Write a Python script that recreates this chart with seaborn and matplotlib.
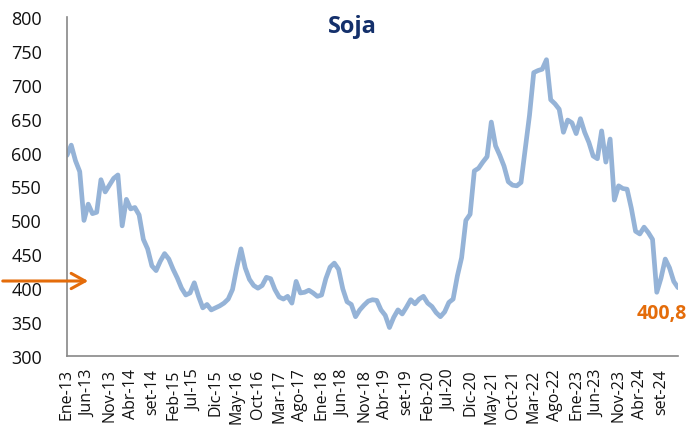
import numpy as np
import pandas as pd
import matplotlib
matplotlib.use("Agg")
import matplotlib.pyplot as plt
import seaborn as sns

# ---- data (monthly, Ene-13 .. Ene-25) ----
month_names = ["Ene", "Feb", "Mar", "Abr", "May", "Jun", "Jul", "Ago", "set", "Oct", "Nov", "Dic"]
start_year = 13
soja = [596, 611, 588, 572, 500, 524, 510, 512, 560, 542, 552, 562,
        567, 492, 531, 517, 519, 508, 472, 458, 433, 426, 440, 451,
        443, 428, 415, 400, 390, 393, 408, 388, 371, 376, 368, 371,
        374, 378, 384, 398, 430, 458, 430, 413, 404, 400, 404, 416,
        414, 398, 387, 384, 388, 378, 410, 393, 394, 397, 393, 388,
        390, 414, 431, 437, 428, 399, 380, 376, 358, 368, 375, 381,
        383, 382, 368, 360, 342, 357, 368, 362, 372, 383, 377, 384,
        388, 378, 373, 364, 358, 365, 379, 384, 418, 445, 500, 509,
        573, 577, 586, 594, 645, 610, 596, 580, 557, 552, 551, 556,
        605, 655, 718, 721, 723, 737, 678, 672, 664, 630, 648, 644,
        628, 650, 630, 615, 595, 591, 632, 586, 620, 530, 551, 547,
        546, 518, 484, 480, 490, 482, 472, 394, 415, 443, 430, 410,
        400.8]
y_ticks = [300, 350, 400, 450, 500, 550, 600, 650, 700, 750, 800]
title = "Soja"

idx = list(range(len(soja)))
labels_all = [f"{month_names[i % 12]}-{start_year + i // 12}" for i in idx]
df = pd.DataFrame({"m": idx, "precio": soja})

sns.set_style("white")
plt.rcParams["font.family"] = ["Open Sans", "DejaVu Sans"]

fig = plt.figure(figsize=(6.89, 4.27), dpi=100)
ax = fig.add_axes([67 / 689, 1 - 357 / 427, (678 - 67) / 689, (357 - 18) / 427])

sns.lineplot(data=df, x="m", y="precio", ax=ax, color="#95B3D7", linewidth=3.4,
             solid_capstyle="round", solid_joinstyle="round")

ax.set_xlim(0, len(soja) - 1)
ax.set_ylim(y_ticks[0], y_ticks[-1])
ax.set_xlabel("")
ax.set_ylabel("")

# y axis
ax.set_yticks(y_ticks)
ax.tick_params(axis="y", which="major", length=6, width=1.2, color="#888888",
               direction="out", pad=12, labelsize=13, labelcolor="#111111")

# x axis: labels every 5 months, tick marks every 12 months
lab_pos = idx[::5]
ax.set_xticks(lab_pos)
ax.set_xticklabels([labels_all[i] for i in lab_pos], rotation=90, fontsize=11.5, color="#111111")
ax.set_xticks(idx[::12], minor=True)
ax.tick_params(axis="x", which="major", length=0, pad=9)
ax.tick_params(axis="x", which="minor", length=5, width=1.2, color="#888888", direction="out")

for s in ["top", "right"]:
    ax.spines[s].set_visible(False)
for s in ["left", "bottom"]:
    ax.spines[s].set_color("#888888")
    ax.spines[s].set_linewidth(1.2)
ax.grid(False)

# title
fig.text(352 / 689, 1 - 27 / 427, title, ha="center", va="center",
         fontsize=17, fontweight="bold", color="#14306B")

# last value label
last_val = soja[-1]
ax.annotate(f"{last_val:.1f}".replace(".", ","), xy=(idx[-1], last_val),
            xytext=(-12, -18), textcoords="offset points", ha="center", va="center",
            fontsize=14, fontweight="bold", color="#E46C0A")

# orange arrow at the left
ax.annotate("", xy=(91 / 689, 1 - 282 / 427), xycoords="figure fraction",
            xytext=(0, 1 - 282 / 427), textcoords="figure fraction",
            arrowprops=dict(arrowstyle="->,head_length=1.0,head_width=0.55",
                            color="#E46C0A", lw=2.2), annotation_clip=False)

fig.savefig("out.png", dpi=100)
